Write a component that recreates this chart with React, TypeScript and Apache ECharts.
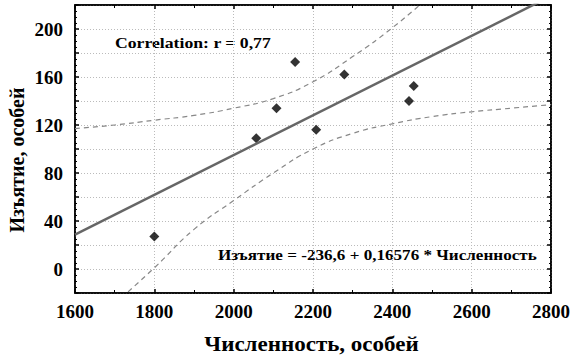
import React, { useEffect, useRef } from "react";
import * as echarts from "echarts";

const pointsX = [1800, 2057, 2108, 2155, 2208, 2279, 2442, 2454];
const pointsY = [27, 109, 134, 172.5, 116, 162, 140, 152.5];

const fitX = [1600, 2800];
const fitY = [28.6, 227.5];

const upperX = [1600, 1700, 1800, 1900, 2000, 2100, 2200, 2300, 2400, 2500];
const upperY = [117, 120, 124, 128, 134, 142, 156, 177, 201, 229];

const lowerX = [1700, 1800, 1900, 2000, 2100, 2200, 2300, 2400, 2500, 2600, 2700, 2800];
const lowerY = [-29, 1, 33, 57, 80, 100, 113, 121, 127, 131, 134, 137];

const xTitle = "Численность, особей";
const yTitle = "Изъятие, особей";
const corrText = "Correlation: r = 0,77";
const eqText = "Изъятие = -236,6 + 0,16576 * Численность";

const FONT = "Liberation Serif, DejaVu Serif, serif";

const pair = (xs: number[], ys: number[]) => xs.map((x, i) => [x, ys[i]]);

export default function App() {
  const ref = useRef<HTMLDivElement>(null);
  useEffect(() => {
    if (!ref.current) return;
    document.body.style.margin = "0";
    const chart = echarts.init(ref.current, undefined, { renderer: "svg" });
    const labelStyle = { fontFamily: FONT, fontWeight: "bold" as const, fontSize: 19, color: "#000" };
    const gridLine = { show: true, lineStyle: { color: "#bbb", type: [1, 2] as any, width: 1 } };
    const tick = { show: true, inside: true, length: 4, lineStyle: { color: "#000", width: 1.5 } };
    const line = { show: true, onZero: false, lineStyle: { color: "#000", width: 1.5 } };
    chart.setOption({
      animation: false,
      backgroundColor: "#fff",
      grid: { left: 75, right: 19, top: 5, bottom: 65, show: true, borderColor: "#000", borderWidth: 1.5 },
      xAxis: [
        {
          type: "value", min: 1600, max: 2800, interval: 200,
          axisLine: line, axisTick: tick,
          minorTick: { show: true, splitNumber: 2, length: 3, lineStyle: { color: "#000" } },
          axisLabel: { ...labelStyle, margin: 9, formatter: (v: number) => String(v) },
          splitLine: gridLine,
        },
        {
          type: "value", min: 1600, max: 2800, interval: 200, position: "top",
          axisLine: line, axisTick: tick,
          minorTick: { show: true, splitNumber: 2, length: 3, lineStyle: { color: "#000" } },
          axisLabel: { show: false }, splitLine: { show: false },
        },
      ],
      yAxis: [
        {
          type: "value", min: -20, max: 220, interval: 20,
          axisLine: line, axisTick: tick,
          minorTick: { show: true, splitNumber: 4, length: 2, lineStyle: { color: "#000" } },
          axisLabel: {
            ...labelStyle, margin: 12,
            formatter: (v: number) => (v % 40 === 0 && v >= 0 ? String(v) : ""),
          },
          splitLine: gridLine,
        },
        {
          type: "value", min: -20, max: 220, interval: 20, position: "right",
          axisLine: line, axisTick: tick,
          minorTick: { show: true, splitNumber: 4, length: 2, lineStyle: { color: "#000" } },
          axisLabel: { show: false }, splitLine: { show: false },
        },
      ],
      series: [
        {
          type: "line", data: pair(upperX, upperY), smooth: true, symbol: "none", clip: true,
          lineStyle: { color: "#888", width: 1.2, type: [5, 4] },
        },
        {
          type: "line", data: pair(lowerX, lowerY), smooth: true, symbol: "none", clip: true,
          lineStyle: { color: "#888", width: 1.2, type: [5, 4] },
        },
        {
          type: "line", data: pair(fitX, fitY), symbol: "none", clip: true,
          lineStyle: { color: "#666", width: 2.5 },
        },
        {
          type: "scatter", data: pair(pointsX, pointsY), symbol: "diamond", symbolSize: 10,
          itemStyle: { color: "#000" },
        },
      ],
      graphic: [
        {
          type: "text", x: 115, y: 43, scaleX: 1.18,
          style: { text: corrText, font: `bold 15px ${FONT}`, fill: "#000", verticalAlign: "middle", align: "left" },
        },
        {
          type: "text", x: 218, y: 255, scaleX: 1.14,
          style: { text: eqText, font: `bold 15px ${FONT}`, fill: "#000", verticalAlign: "middle", align: "left" },
        },
        {
          type: "text", x: 311.5, y: 345, scaleX: 1.15,
          style: { text: xTitle, font: `bold 20px ${FONT}`, fill: "#000", verticalAlign: "middle", align: "center" },
        },
        {
          type: "text", x: 17, y: 160, rotation: Math.PI / 2,
          style: { text: yTitle, font: `bold 20px ${FONT}`, fill: "#000", verticalAlign: "middle", align: "center" },
        },
      ],
    });
    return () => chart.dispose();
  }, []);
  return <div ref={ref} style={{ width: 573, height: 358 }} />;
}
